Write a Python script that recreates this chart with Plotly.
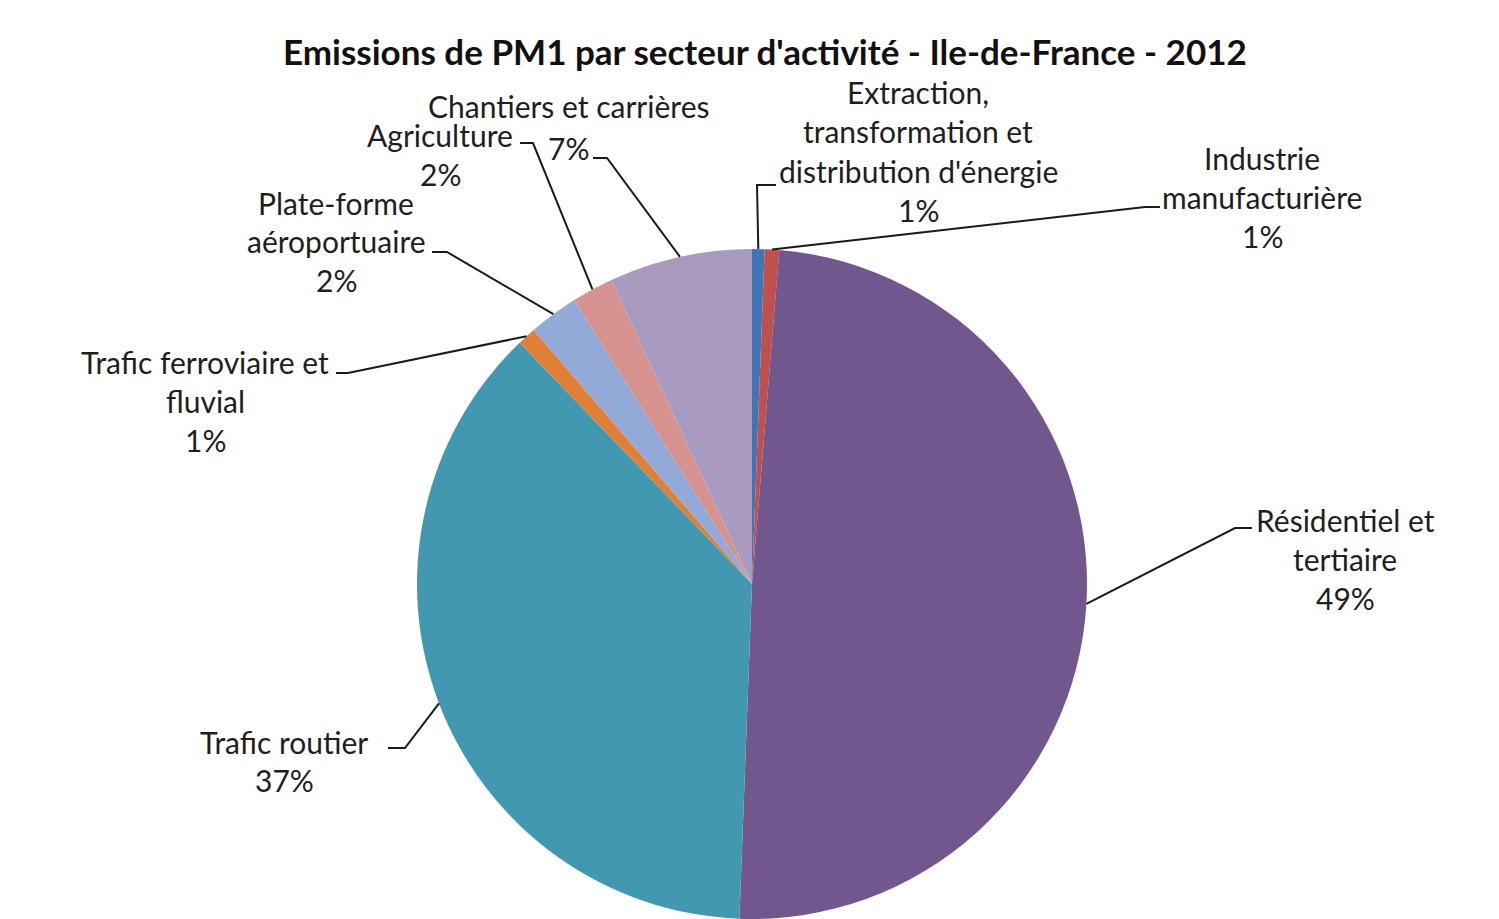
import math
import plotly.graph_objects as go

# ---- data ----
sectors = [
    "Extraction, transformation et distribution d'énergie",
    "Industrie manufacturière",
    "Résidentiel et tertiaire",
    "Trafic routier",
    "Trafic ferroviaire et fluvial",
    "Plate-forme aéroportuaire",
    "Agriculture",
    "Chantiers et carrières",
]
label_lines = [
    ["Extraction,", "transformation et", "distribution d'énergie"],
    ["Industrie", "manufacturière"],
    ["Résidentiel et", "tertiaire"],
    ["Trafic routier"],
    ["Trafic ferroviaire et", "fluvial"],
    ["Plate-forme", "aéroportuaire"],
    ["Agriculture"],
    ["Chantiers et carrières"],
]
shares = [0.6, 0.7, 49.3, 37.2, 0.9, 2.4, 2.0, 6.9]
colors = ["#3F74B5", "#C0504D", "#72578E", "#4298B0",
          "#E07F38", "#93A9D7", "#D6928F", "#A99BBF"]
title = "Emissions de PM1 par secteur d'activité - Ile-de-France - 2012"

# ---- layout (pixels) ----
W, H = 1499, 919
CX, CY, R = 752, 584, 335
# label block: (center x, first line y, line spacing)
label_pos = [
    (918, 92, 39.3),
    (1262, 158, 39),
    (1345, 520, 39),
    (284, 742, 38),
    (205, 362, 39),
    (336, 203, 38.5),
    (440, 135, 39),
    (568, 106, 42),
]
# leader: elbow point, end point
leaders = [
    ((757, 185), (776, 185)),
    ((1145, 207), (1160, 207)),
    ((1235, 528), (1252, 528)),
    ((405, 748), (388, 748)),
    ((348, 373), (336, 373)),
    ((447, 252), (432, 252)),
    ((533, 143), (520, 143)),
    ((607, 158), (593, 158)),
]

def px(x):
    return x / W

def py(y):
    return 1 - y / H

FONT = "Lato, Carlito, 'Open Sans', sans-serif"
TXT = "#1e1e1e"

fig = go.Figure(go.Pie(
    labels=sectors, values=shares, sort=False, direction="clockwise",
    rotation=0, marker=dict(colors=colors, line=dict(width=0)),
    textinfo="none", hoverinfo="label+percent", showlegend=False,
    domain=dict(x=[px(CX - R), px(CX + R)], y=[max(0, py(CY + R)), py(CY - R)]),
))

annotations = [dict(
    text=f"<b>{title}</b>", x=px(765), y=py(51), xref="paper", yref="paper",
    showarrow=False, font=dict(family=FONT, size=35, color="#111111"),
    xanchor="center", yanchor="middle")]
shapes = []
total = sum(shares)
cum = 0.0
for i, v in enumerate(shares):
    mid = (cum + v / 2) / total * 2 * math.pi
    cum += v
    sx = CX + R * math.sin(mid)
    sy = CY - R * math.cos(mid)
    (ex, ey), (tx, ty) = leaders[i]
    shapes.append(dict(
        type="path", xref="paper", yref="paper",
        path=f"M {px(sx)},{py(sy)} L {px(ex)},{py(ey)} L {px(tx)},{py(ty)}",
        line=dict(color="#1a1a1a", width=2)))
    lx, ly, sp = label_pos[i]
    lines = label_lines[i] + [f"{v:.0f}%"]
    for j, t in enumerate(lines):
        annotations.append(dict(
            text=t, x=px(lx), y=py(ly + j * sp), xref="paper", yref="paper",
            showarrow=False, font=dict(family=FONT, size=30, color=TXT),
            xanchor="center", yanchor="middle"))

fig.update_layout(
    width=W, height=H, margin=dict(l=0, r=0, t=0, b=0),
    paper_bgcolor="white", plot_bgcolor="white",
    annotations=annotations, shapes=shapes,
)
fig.write_html("out.html", config={"displayModeBar": False},
               post_script="document.body.style.margin='0';"
                           "document.body.style.overflow='hidden';")
